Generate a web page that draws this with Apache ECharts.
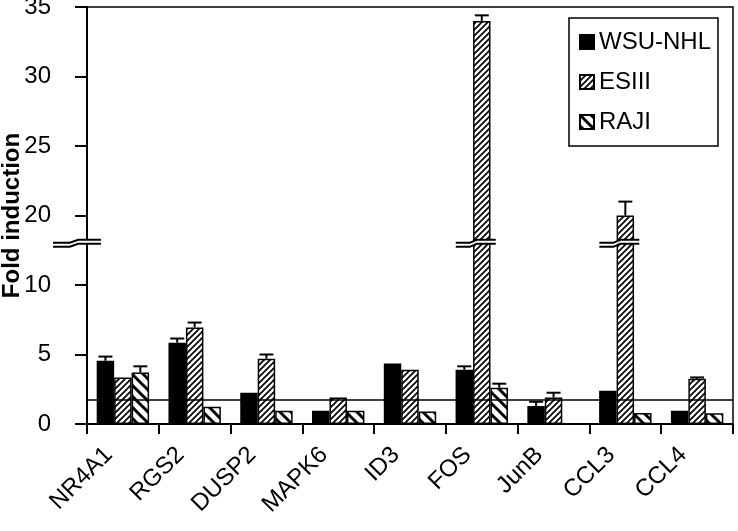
<!DOCTYPE html>
<html>
<head>
<meta charset="utf-8">
<script src="https://cdn.jsdelivr.net/npm/echarts@6/dist/echarts.min.js"></script>
<style>html,body{margin:0;padding:0;background:#fff;}#c{width:738px;height:531px;}</style>
</head>
<body>
<div id="c"></div>
<script>
const categories = ['NR4A1','RGS2','DUSP2','MAPK6','ID3','FOS','JunB','CCL3','CCL4'];
const seriesNames = ['WSU-NHL','ESIII','RAJI'];
const wsuValues   = [4.55, 5.85, 2.25, 0.95, 4.35, 3.9, 1.3, 2.4, 0.95];
const wsuErrTop   = [4.85, 6.15, null, null, null, 4.15, 1.6, null, null];
const esiiiValues = [3.35, 6.95, 4.7, 1.9, 3.9, 34.0, 1.9, 20.0, 3.25];
const esiiiErrTop = [null, 7.3, 5.0, null, null, 34.4, 2.25, 21.0, 3.35];
const rajiValues  = [3.7, 1.25, 0.95, 0.95, 0.9, 2.6, null, 0.8, 0.77];
const rajiErrTop  = [4.15, null, null, null, null, 2.9, null, null, null];
const yTickValues = [0, 5, 10, 20, 25, 30, 35];
const thresholdValue = 1.75;
const breakValue = 16; // axis break drawn between 10 and 20

// broken axis: 0..10 linear, 20..35 shifted down by 5
function tf(v){ if(v==null) return null; if(v<=10) return v; if(v>=20) return v-5; return 10+(v-10)/2; }
function inv(p){ return p<=10 ? p : p+5; }

function hatch(dir, size, lw){
  const c=document.createElement('canvas'); c.width=c.height=size;
  const g=c.getContext('2d'); g.fillStyle='#fff'; g.fillRect(0,0,size,size);
  g.strokeStyle='#000'; g.lineWidth=lw; g.beginPath();
  if(dir>0){
    g.moveTo(-2,size+2); g.lineTo(size+2,-2);
    g.moveTo(-2,2); g.lineTo(2,-2);
    g.moveTo(size-2,size+2); g.lineTo(size+2,size-2);
  } else {
    g.moveTo(-2,-2); g.lineTo(size+2,size+2);
    g.moveTo(size-2,-2); g.lineTo(size+2,2);
    g.moveTo(-2,size-2); g.lineTo(2,size+2);
  }
  g.stroke();
  return {image:c, repeat:'repeat'};
}

const FONT = "'Liberation Sans', Arial, sans-serif";
const catGap = 0.27;
const fills = ['#000', hatch(1,6,1.7), hatch(-1,11,3)];
const vals = [wsuValues, esiiiValues, rajiValues];
const errs = [wsuErrTop, esiiiErrTop, rajiErrTop];

const chart = echarts.init(document.getElementById('c'), null, {renderer:'canvas'});

const series = [];
vals.forEach((arr,i)=>{
  const s = {
    name: seriesNames[i], type:'bar',
    data: arr.map(v=> v==null ? '-' : tf(v)),
    barGap:'0%', barCategoryGap:(catGap*100)+'%',
    itemStyle:{color:fills[i], borderColor:'#000', borderWidth:1.5},
    z:2
  };
  if(i===0){
    s.markLine = {silent:true, symbol:'none', label:{show:false},
      lineStyle:{color:'#000', width:1.5, type:'solid'},
      data:[{yAxis: tf(thresholdValue)}], z:5};
  }
  series.push(s);
});
errs.forEach((arr,i)=>{
  const d=[];
  arr.forEach((e,ci)=>{ if(e!=null) d.push([ci, tf(vals[i][ci]), tf(e)]); });
  series.push({
    type:'custom', z:4, silent:true,
    encode:{x:0, y:2},
    data:d,
    renderItem:function(params, api){
      const ci=api.value(0);
      const top=api.coord([ci, api.value(1)]);
      const et=api.coord([ci, api.value(2)]);
      const band=api.size([1,0])[0];
      const gw=band*(1-catGap); const bw=gw/3;
      const x=top[0]-gw/2+bw*(i+0.5);
      const cap=bw*0.4;
      return {type:'group', children:[
        {type:'line', shape:{x1:x,y1:top[1],x2:x,y2:et[1]}, style:{stroke:'#000', lineWidth:2}},
        {type:'line', shape:{x1:x-cap,y1:et[1],x2:x+cap,y2:et[1]}, style:{stroke:'#000', lineWidth:2}}
      ]};
    }
  });
});

chart.setOption({
  animation:false,
  backgroundColor:'#fff',
  grid:{left:87, right:5, top:7, bottom:107, outerBoundsMode:'none', containLabel:false,
        show:true, borderColor:'#000', borderWidth:1.5, backgroundColor:'transparent'},
  legend:{
    data:seriesNames, orient:'vertical', left:569, top:18, icon:'rect',
    padding:[12,7,12,10], itemGap:16, itemWidth:14, itemHeight:14,
    borderColor:'#000', borderWidth:1.5, backgroundColor:'#fff',
    textStyle:{fontFamily:FONT, fontSize:24, color:'#000'},
    selectedMode:false
  },
  xAxis:{
    type:'category', data:categories,
    axisLine:{lineStyle:{color:'#000', width:2}},
    axisTick:{show:true, inside:false, length:10, lineStyle:{color:'#000', width:2}},
    axisLabel:{rotate:45, margin:13, color:'#000', fontFamily:FONT, fontSize:24, interval:0, padding:[0,20,0,0]}
  },
  yAxis:{
    type:'value', min:0, max:tf(35), interval:5,
    name:'Fold induction', nameLocation:'middle', nameGap:63, nameMoveOverlap:false,
    nameTextStyle:{fontFamily:FONT, fontSize:24, fontWeight:'bold', color:'#000'},
    splitLine:{show:false},
    axisLine:{show:true, lineStyle:{color:'#000', width:2}},
    axisTick:{show:true, inside:false, length:12, lineStyle:{color:'#000', width:2}},
    axisLabel:{margin:36, color:'#000', fontFamily:FONT, fontSize:24,
      formatter:function(p){ const v=inv(p); return yTickValues.indexOf(v)>=0 ? String(v) : ''; }}
  },
  series:series
});

// break marks (positions via the chart's own scales)
function breakMark(cx, cy, w){
  const l1=[[cx-w,cy+1.5],[cx-w*0.3,cy+1.5],[cx+w*0.05,cy-1.5],[cx+w,cy-1.5]];
  const off=4;
  const l2=l1.map(p=>[p[0],p[1]+off]);
  const poly=l1.concat(l2.slice().reverse());
  return [
    {type:'polygon', shape:{points:poly}, style:{fill:'#fff'}, z:100},
    {type:'polyline', shape:{points:l1}, style:{stroke:'#000', lineWidth:2, fill:null}, z:101},
    {type:'polyline', shape:{points:l2}, style:{stroke:'#000', lineWidth:2, fill:null}, z:101}
  ];
}
const by = chart.convertToPixel({yAxisIndex:0}, tf(breakValue));
const ax = chart.convertToPixel({xAxisIndex:0}, 0);
const band = chart.convertToPixel({xAxisIndex:0}, 1) - ax;
const axisX = ax - band/2;
let g = [];
g = g.concat(breakMark(axisX-10, by-2, 24));
[5,7].forEach(ci=>{
  const cx = chart.convertToPixel({xAxisIndex:0}, ci);
  g = g.concat(breakMark(cx-6, by-2, 20));
});
chart.setOption({graphic:g});
</script>
</body>
</html>
